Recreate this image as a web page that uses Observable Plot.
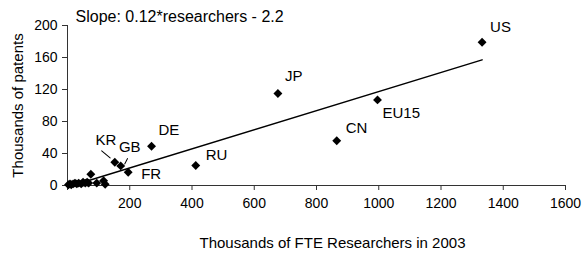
<!DOCTYPE html>
<html><head><meta charset="utf-8">
<script src="https://cdn.jsdelivr.net/npm/d3@7"></script>
<script src="https://cdn.jsdelivr.net/npm/@observablehq/plot@0.6"></script>
<style>body{margin:0;background:#fff;} svg{display:block;}</style>
</head><body><div id="chart"></div>
<script>
// Data (thousands)
const countries   = ["US", "JP", "EU15", "CN", "RU", "DE", "KR", "GB", "FR", "", "", "", "", "", "", "", "", "", "", "", "", "", "", "", ""];
const researchers = [1332, 676, 996, 865, 412, 270, 152, 171, 195, 3, 8, 12, 18, 24, 30, 36, 44, 50, 57, 63, 68, 75, 94, 116, 121];
const patents     = [179, 115, 107, 56, 25, 49, 29, 24.5, 16.6, 1, 2, 1, 2, 3, 2, 3, 2, 4, 3, 4, 3, 14, 3, 6, 1.5];
const yTicks = [0, 40, 80, 120, 160, 200];
const xTicks = [0, 200, 400, 600, 800, 1000, 1200, 1400, 1600];
const slopeText = "Slope: 0.12*researchers - 2.2";
const xTitle = "Thousands of FTE Researchers in 2003";
const yTitle = "Thousands of patents";

const data = countries.map((c, i) => ({country: c, x: researchers[i], y: patents[i]}));
const font = "'Liberation Sans', Arial, Helvetica, sans-serif";
const pick = (name) => data.filter(d => d.country === name);
const lbl = (name, dx, dy, anchor = "start") =>
  Plot.text(pick(name), {x: "x", y: "y", text: "country", dx, dy, textAnchor: anchor, lineAnchor: "middle", fontSize: 15, fill: "#000"});
const lineShape = {draw(ctx, l) { ctx.moveTo(0, 0); ctx.lineTo(0, -l); }};

const chart = Plot.plot({
  width: 588, height: 253,
  marginLeft: 67, marginRight: 23, marginTop: 25, marginBottom: 68,
  style: {fontFamily: font, fontSize: "14px", background: "#fff", color: "#000"},
  x: {domain: [0, 1600]},
  y: {domain: [0, 200]},
  marks: [
    Plot.axisY({ticks: yTicks, tickSize: 5, tickPadding: 5, label: null, fontSize: 14, stroke: "#333", tickFormat: d3.format("d")}),
    Plot.axisX({ticks: xTicks, tickSize: 5, tickPadding: 8, label: null, fontSize: 14, stroke: "#333", tickFormat: d => d === 0 ? "" : d3.format("d")(d)}),
    Plot.ruleX([0], {stroke: "#333"}),
    Plot.ruleY([0], {stroke: "#333"}),
    Plot.linearRegressionY(data, {x: "x", y: "y", ci: 0, stroke: "#000", strokeWidth: 1.5}),
    Plot.dot(data, {x: "x", y: "y", symbol: "diamond2", r: 4, fill: "#000", stroke: null}),
    lbl("US", 8, -15),
    lbl("JP", 7, -17),
    lbl("EU15", 5, 13),
    lbl("CN", 9, -13),
    lbl("RU", 10, -10),
    lbl("DE", 7, -16),
    lbl("KR", -9, -22, "middle"),
    lbl("GB", 9, -19, "middle"),
    lbl("FR", 13, 2),
    Plot.vector(pick("KR"), {x: "x", y: "y", length: 11, rotate: 310, anchor: "start", dx: -4.7, dy: -4.4, shape: lineShape, stroke: "#000", strokeWidth: 1}),
    Plot.vector(pick("GB"), {x: "x", y: "y", length: 6, rotate: 28, anchor: "start", dx: 4, dy: -2, shape: lineShape, stroke: "#000", strokeWidth: 1}),
    Plot.text([slopeText], {frameAnchor: "top-left", textAnchor: "start", lineAnchor: "middle", dx: 8, dy: -9, fontSize: 16, fill: "#000"}),
    Plot.text([xTitle], {frameAnchor: "bottom", textAnchor: "middle", lineAnchor: "middle", dx: 16, dy: 58, fontSize: 15, fill: "#000"}),
    Plot.text([yTitle], {frameAnchor: "left", textAnchor: "middle", lineAnchor: "middle", rotate: -90, dx: -49, fontSize: 15, fill: "#000"})
  ]
});
document.getElementById("chart").appendChild(chart);
</script>
</body></html>
